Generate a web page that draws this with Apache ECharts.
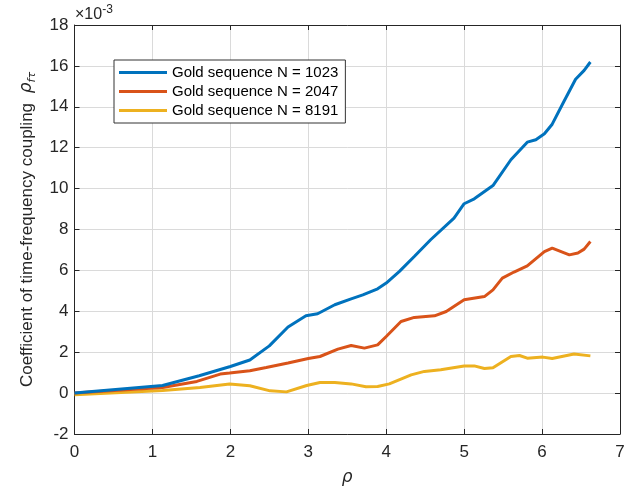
<!DOCTYPE html>
<html>
<head>
<meta charset="utf-8">
<script src="https://cdn.jsdelivr.net/npm/echarts@6/dist/echarts.min.js"></script>
<style>
  html, body { margin: 0; padding: 0; background: #ffffff; }
  #chart { width: 638px; height: 486px; }
</style>
</head>
<body>
<div id="chart"></div>
<script>
// Coupling coefficient (×10^-3) against rho for three Gold sequence lengths
const seriesNames = ['Gold sequence N = 1023', 'Gold sequence N = 2047', 'Gold sequence N = 8191'];
const seriesColors = ['#0072BD', '#D95319', '#EDB120'];

const goldN1023 = [
  [0, 0], [1.13, 0.37], [1.6, 0.85], [2.0, 1.3], [2.25, 1.62], [2.5, 2.31], [2.74, 3.23],
  [2.97, 3.78], [3.12, 3.88], [3.34, 4.32], [3.55, 4.61], [3.70, 4.8], [3.89, 5.1],
  [4.0, 5.38], [4.17, 5.95], [4.36, 6.68], [4.57, 7.5], [4.87, 8.56], [5.0, 9.26],
  [5.13, 9.5], [5.37, 10.15], [5.60, 11.41], [5.81, 12.27], [5.92, 12.39], [6.03, 12.68],
  [6.13, 13.15], [6.28, 14.26], [6.43, 15.35], [6.54, 15.78], [6.62, 16.19]
];
const goldN2047 = [
  [0, 0], [1.13, 0.27], [1.57, 0.57], [1.87, 0.93], [1.99, 0.98], [2.25, 1.09], [2.46, 1.25],
  [2.74, 1.47], [3.0, 1.69], [3.15, 1.79], [3.38, 2.15], [3.55, 2.33], [3.72, 2.2],
  [3.89, 2.36], [4.0, 2.77], [4.19, 3.5], [4.36, 3.7], [4.62, 3.78], [4.77, 3.99],
  [5.0, 4.56], [5.26, 4.72], [5.37, 5.05], [5.49, 5.62], [5.64, 5.92], [5.81, 6.22],
  [6.03, 6.92], [6.13, 7.09], [6.35, 6.76], [6.46, 6.85], [6.54, 7.04], [6.62, 7.41]
];
const goldN8191 = [
  [0, -0.08], [1.13, 0.13], [1.61, 0.27], [1.99, 0.45], [2.25, 0.36], [2.51, 0.11],
  [2.72, 0.06], [2.98, 0.37], [3.15, 0.52], [3.34, 0.52], [3.55, 0.45], [3.74, 0.31],
  [3.89, 0.32], [4.04, 0.45], [4.32, 0.89], [4.49, 1.06], [4.70, 1.14], [5.0, 1.33],
  [5.13, 1.33], [5.26, 1.2], [5.37, 1.24], [5.60, 1.79], [5.71, 1.84], [5.81, 1.71],
  [6.01, 1.76], [6.13, 1.69], [6.41, 1.91], [6.62, 1.82]
];

const xTicks = { min: 0, max: 7, interval: 1 };
const yTicks = { min: -2, max: 18, interval: 2 };

const ink = '#262626';
const font = 'Liberation Sans, Arial, Helvetica, sans-serif';

const chart = echarts.init(document.getElementById('chart'), null, { renderer: 'canvas' });

// top and right edges of the box, ticks only
const frameAxis = (pos, ticks) => ({
  type: 'value',
  position: pos,
  min: ticks.min, max: ticks.max, interval: ticks.interval,
  axisLine: { show: true, onZero: false, lineStyle: { color: ink, width: 1 } },
  axisTick: { show: true, inside: true, length: 5, lineStyle: { color: ink, width: 1 } },
  axisLabel: { show: false },
  splitLine: { show: false }
});

chart.setOption({
  animation: false,
  backgroundColor: '#ffffff',
  grid: { left: 74.5, right: 18, top: 25, bottom: 52, containLabel: false, outerBoundsMode: 'none' },
  xAxis: [
    {
      type: 'value',
      position: 'bottom',
      min: xTicks.min, max: xTicks.max, interval: xTicks.interval,
      name: 'ρ',
      nameLocation: 'middle',
      nameGap: 35,
      nameTextStyle: { fontFamily: 'DejaVu Sans, sans-serif', fontStyle: 'italic', fontSize: 17, color: ink },
      axisLine: { show: true, onZero: false, lineStyle: { color: ink, width: 1 } },
      axisTick: { show: true, inside: true, length: 5, lineStyle: { color: ink } },
      axisLabel: { color: ink, fontSize: 17, fontFamily: font, margin: 10 },
      splitLine: { show: true, lineStyle: { color: '#dadada', width: 1 } }
    },
    frameAxis('top', xTicks)
  ],
  yAxis: [
    {
      type: 'value',
      position: 'left',
      min: yTicks.min, max: yTicks.max, interval: yTicks.interval,
      name: 'Coefficient of time-frequency coupling {rho|ρ}{sub|fτ}',
      nameLocation: 'middle',
      nameGap: 37,
      nameRotate: 90,
      nameTextStyle: {
        fontFamily: font, fontSize: 17, color: ink,
        rich: {
          rho: { fontFamily: 'DejaVu Sans, sans-serif', fontStyle: 'italic', fontSize: 17, color: ink, padding: [0, 0, 0, 5] },
          sub: { fontFamily: 'DejaVu Sans, sans-serif', fontStyle: 'italic', fontSize: 11, color: ink, padding: [10, 0, 0, 0] }
        }
      },
      axisLine: { show: true, onZero: false, lineStyle: { color: ink, width: 1 } },
      axisTick: { show: true, inside: true, length: 5, lineStyle: { color: ink } },
      axisLabel: { color: ink, fontSize: 17, fontFamily: font, margin: 6 },
      splitLine: { show: true, lineStyle: { color: '#dadada', width: 1 } }
    },
    frameAxis('right', yTicks)
  ],
  legend: {
    left: 114, top: 60,
    orient: 'vertical',
    backgroundColor: '#ffffff',
    borderColor: '#333333',
    borderWidth: 1,
    borderRadius: 0,
    padding: [5, 7, 5, 5],
    itemGap: 4,
    itemWidth: 48,
    itemHeight: 3,
    icon: 'rect',
    textStyle: { color: '#000000', fontSize: 15, fontFamily: font, padding: [0, 0, 0, 0] },
    data: seriesNames
  },
  graphic: [
    {
      type: 'text',
      left: 75, top: 4,
      style: {
        text: '×10{sup|-3}',
        fill: ink,
        font: '16px ' + font,
        rich: { sup: { fontSize: 12, fontFamily: font, fill: ink, padding: [0, 0, 10, 0] } }
      }
    }
  ],
  series: [goldN1023, goldN2047, goldN8191].map((data, i) => ({
    name: seriesNames[i],
    type: 'line',
    data: data,
    xAxisIndex: 0,
    yAxisIndex: 0,
    showSymbol: false,
    symbol: 'none',
    smooth: false,
    color: seriesColors[i],
    lineStyle: { color: seriesColors[i], width: 3 },
    z: 3 - i
  }))
});
</script>
</body>
</html>
